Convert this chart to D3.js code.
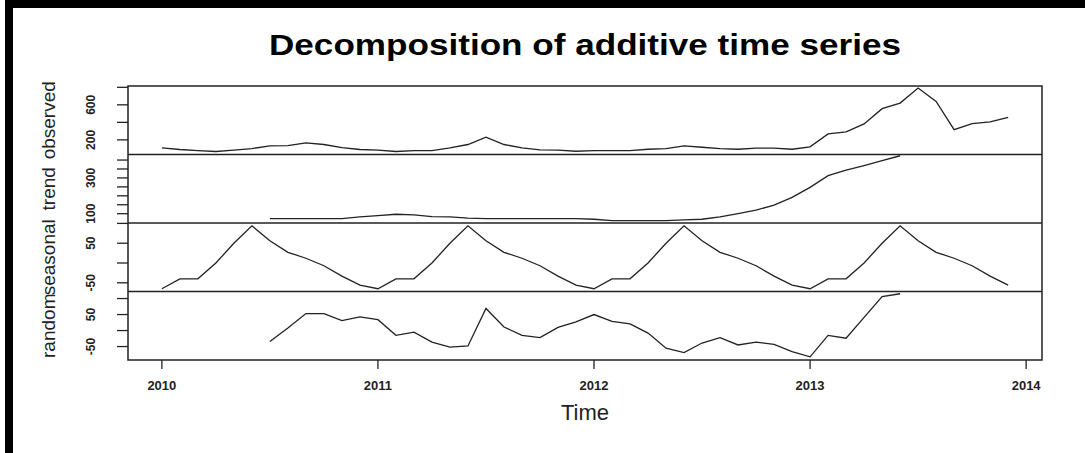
<!DOCTYPE html>
<html>
<head>
<meta charset="utf-8">
<script src="https://cdn.jsdelivr.net/npm/d3@7"></script>
<style>
    body { margin: 0; background: #fff; }
    svg { display: block; font-family: "Liberation Sans", Arial, sans-serif; }
</style>
</head>
<body>
<svg id="chart" width="1085" height="453"></svg>
<script>
// monthly series, Jan 2010 .. Dec 2013
const startYear = 2010;
const yearTicks = [2010, 2011, 2012, 2013, 2014];

const observed = [109, 90, 78, 67, 82, 101, 132, 135, 166, 147, 112, 90,
    82, 67, 78, 78, 109, 147, 230, 147, 109, 86, 82, 70,
    78, 78, 78, 93, 101, 132, 116, 101, 93, 105, 105, 93,
    120, 268, 291, 382, 556, 620, 791, 639, 317, 385, 405, 457];

// centred moving average, first and last 6 months missing
const trend = [null, null, null, null, null, null, 72, 72, 72, 72, 72, 82,
    89, 97, 93, 84, 82, 75, 72, 72, 72, 72, 72, 72,
    69, 61, 61, 61, 61, 65, 69, 82, 101, 120, 148, 191,
    247, 313, 343, 369, 397, 424, null, null, null, null, null, null];

const seasonal = [-65, -40, -40, 0, 50, 94, 56, 27, 12, -7, -33, -56,
    -65, -40, -40, 0, 50, 94, 56, 27, 12, -7, -33, -56,
    -65, -40, -40, 0, 50, 94, 56, 27, 12, -7, -33, -56,
    -65, -40, -40, 0, 50, 94, 56, 27, 12, -7, -33, -56];

const random = [null, null, null, null, null, null, -34, 8, 53, 53, 31, 43,
    34, -15, -5, -36, -52, -48, 69, 11, -15, -22, 10, 27,
    50, 29, 21, -8, -55, -69, -39, -22, -45, -36, -43, -66,
    -82, -15, -24, 41, 106, 115, null, null, null, null, null, null];

const panelNames = ["observed", "trend", "seasonal", "random"];
const panelTicks = [[200, 400, 600, 800], [100, 150, 200, 250, 300, 350, 400], [-50, 0, 50, 100], [-50, 0, 50, 100]];
const panelLabels = [[200, 600], [100, 300], [-50, 50], [-50, 50]];
const panelDomains = [[33, 815], [48, 431], [-72, 101], [-92, 122]];

const svg = d3.select("#chart");
const plot = {left: 128, right: 1042, top: 86, bottom: 360};
const panelH = (plot.bottom - plot.top) / 4;

// outer frame of the screenshot
svg.append("rect").attr("x", 5).attr("y", 0).attr("width", 1080).attr("height", 8).attr("fill", "#000");
svg.append("rect").attr("x", 5).attr("y", 0).attr("width", 8).attr("height", 453).attr("fill", "#000");

svg.append("text")
    .attr("x", 585).attr("y", 55)
    .attr("text-anchor", "middle")
    .attr("font-size", 29).attr("font-weight", "bold")
    .attr("textLength", 632).attr("lengthAdjust", "spacingAndGlyphs")
    .text("Decomposition of additive time series");

const xScale = d3.scaleLinear()
    .domain([startYear - 0.1567, startYear + 47 / 12 + 0.1567])
    .range([plot.left, plot.right]);

const series = [observed, trend, seasonal, random];

series.forEach((values, p) => {
    const y0 = plot.top + p * panelH;
    const yScale = d3.scaleLinear().domain(panelDomains[p]).range([y0 + panelH, y0]);

    const line = d3.line()
        .defined(d => d != null)
        .x((d, i) => xScale(startYear + i / 12))
        .y(d => yScale(d));

    svg.append("path")
        .datum(values)
        .attr("fill", "none")
        .attr("stroke", "#222")
        .attr("stroke-width", 1.3)
        .attr("d", line);

    // y ticks on the left
    svg.selectAll(null)
        .data(panelTicks[p].filter(t => yScale(t) >= y0 - 0.5 && yScale(t) <= y0 + panelH + 0.5))
        .enter().append("line")
        .attr("x1", plot.left - 11).attr("x2", plot.left)
        .attr("y1", d => yScale(d)).attr("y2", d => yScale(d))
        .attr("stroke", "#222").attr("stroke-width", 1.3);

    svg.selectAll(null)
        .data(panelLabels[p])
        .enter().append("text")
        .attr("transform", d => `translate(95,${yScale(d)}) rotate(-90)`)
        .attr("text-anchor", "middle")
        .attr("font-size", 12)
        .attr("font-weight", "bold")
        .attr("fill", "#222")
        .text(d => d);

    svg.append("text")
        .attr("transform", `translate(55,${y0 + panelH / 2}) rotate(-90)`)
        .attr("text-anchor", "middle")
        .attr("font-size", 19)
        .attr("fill", "#222")
        .text(panelNames[p]);

    if (p > 0) {
        svg.append("line")
            .attr("x1", plot.left).attr("x2", plot.right)
            .attr("y1", y0).attr("y2", y0)
            .attr("stroke", "#222").attr("stroke-width", 1.4);
    }
});

svg.append("rect")
    .attr("x", plot.left).attr("y", plot.top)
    .attr("width", plot.right - plot.left).attr("height", plot.bottom - plot.top)
    .attr("fill", "none").attr("stroke", "#222").attr("stroke-width", 1.5);

const xAxis = svg.append("g");
xAxis.selectAll("line")
    .data(yearTicks)
    .enter().append("line")
    .attr("x1", d => xScale(d)).attr("x2", d => xScale(d))
    .attr("y1", plot.bottom).attr("y2", plot.bottom + 9)
    .attr("stroke", "#222").attr("stroke-width", 1.3);
xAxis.selectAll("text")
    .data(yearTicks)
    .enter().append("text")
    .attr("x", d => xScale(d)).attr("y", 390)
    .attr("text-anchor", "middle")
    .attr("font-size", 13)
    .attr("font-weight", "bold")
    .attr("fill", "#222")
    .text(d => d);

svg.append("text")
    .attr("x", 585).attr("y", 420)
    .attr("text-anchor", "middle")
    .attr("font-size", 22)
    .attr("fill", "#222")
    .text("Time");
</script>
</body>
</html>
